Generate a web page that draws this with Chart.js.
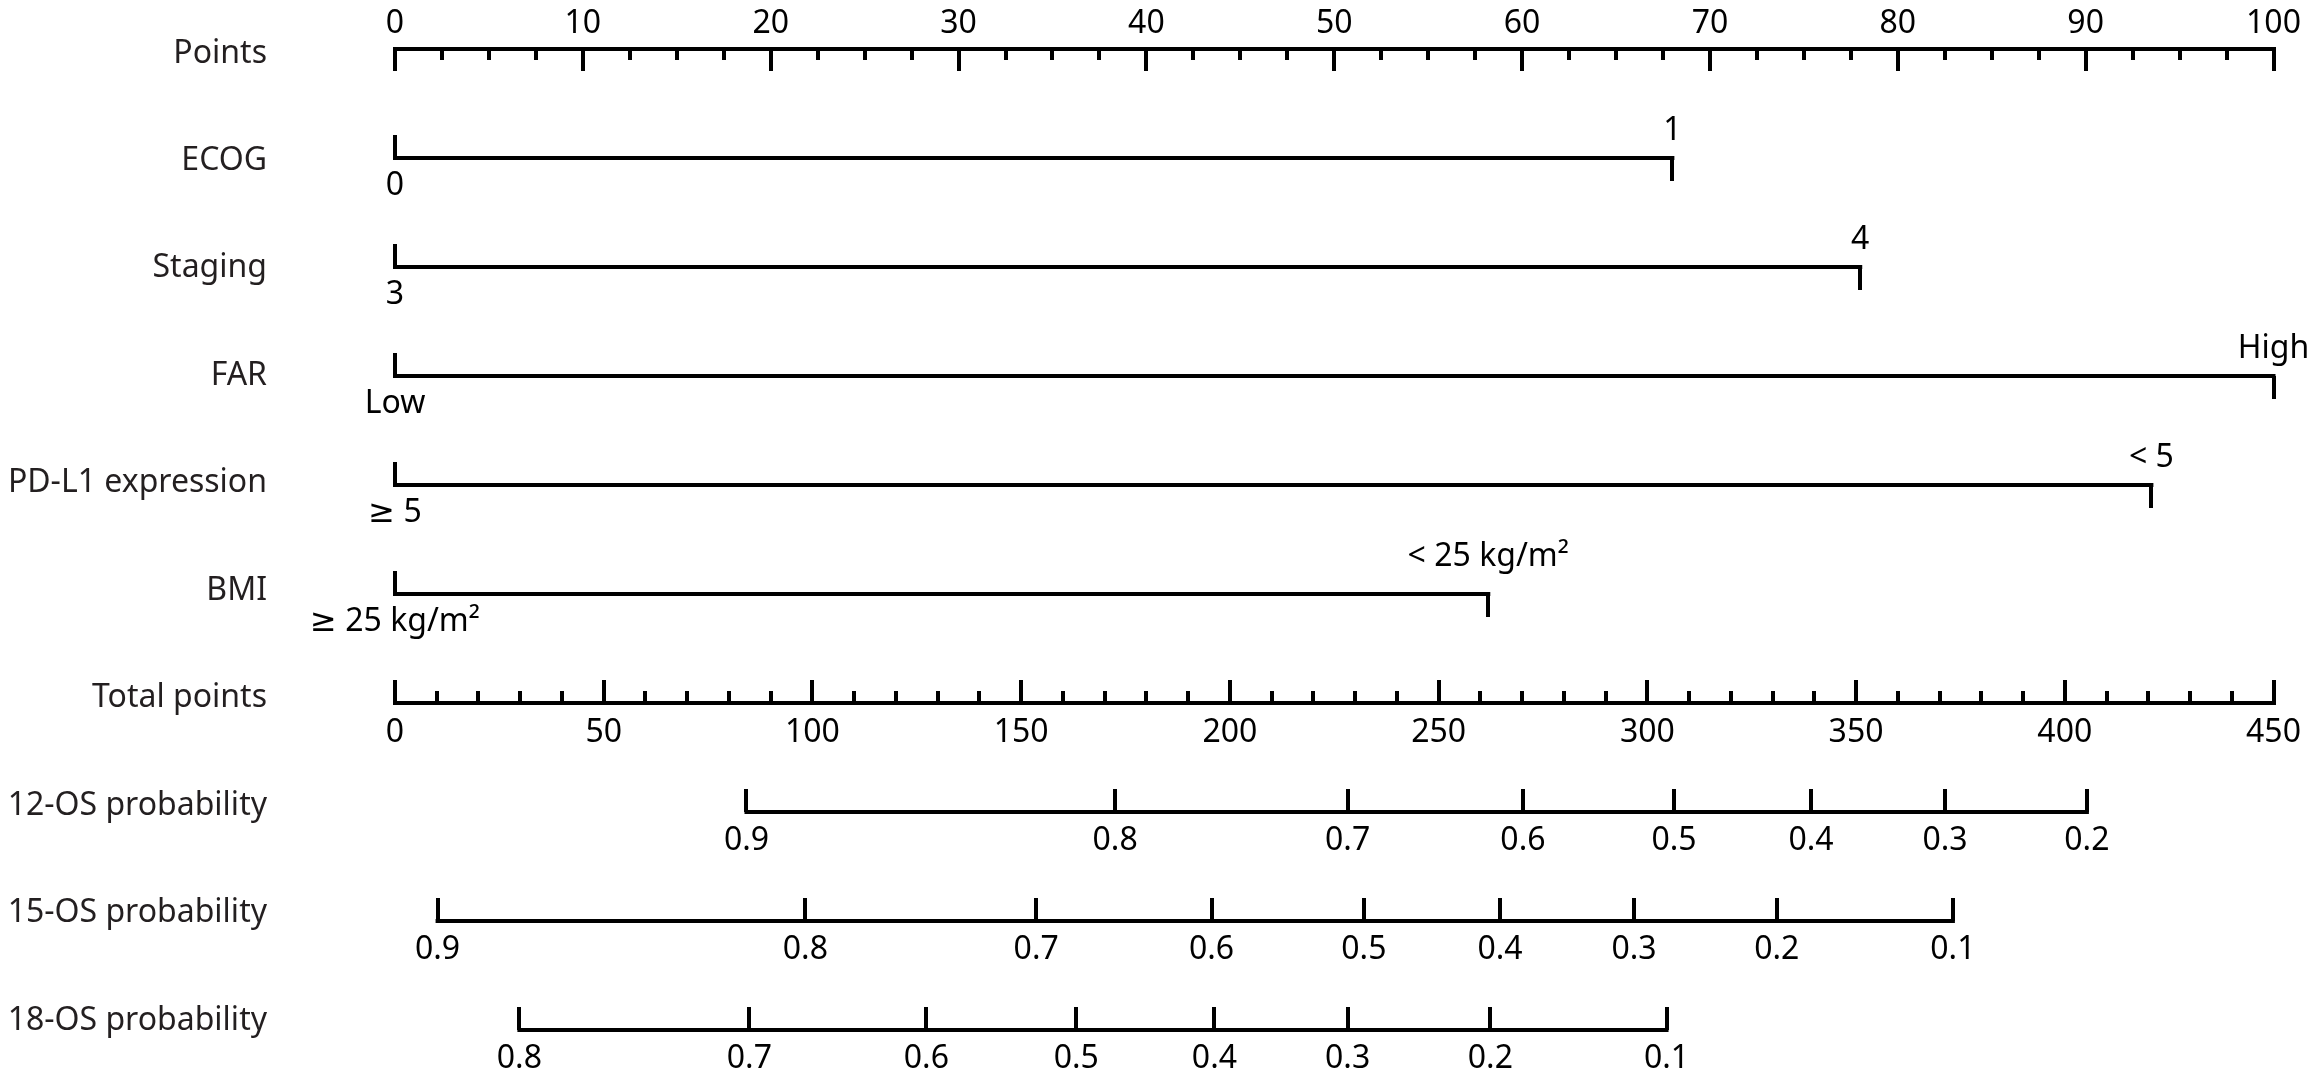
<!DOCTYPE html>
<html>
<head>
<meta charset="utf-8">
<title>Nomogram</title>
<script src="https://cdn.jsdelivr.net/npm/chart.js@4.4.1/dist/chart.umd.min.js"></script>
<style>
  html, body { margin: 0; padding: 0; background: #fff; }
  #wrap { width: 2314px; height: 1089px; }
</style>
</head>
<body>
<div id="wrap"><canvas id="nomogram"></canvas></div>
<script>
// rows, top to bottom
const rowNames = ['Points', 'ECOG', 'Staging', 'FAR', 'PD-L1 expression', 'BMI',
                  'Total points', '12-OS probability', '15-OS probability', '18-OS probability'];

const pointsTicks = [0, 10, 20, 30, 40, 50, 60, 70, 80, 90, 100];
const totalTicks = [0, 50, 100, 150, 200, 250, 300, 350, 400, 450];

// factor levels and the points they get
const ecogLevels = ['0', '1'];
const ecogPoints = [0, 68];
const stagingLevels = ['3', '4'];
const stagingPoints = [0, 78];
const farLevels = ['Low', 'High'];
const farPoints = [0, 100];
const pdl1Levels = ['\u2265 5', '< 5'];
const pdl1Points = [0, 93.5];
const bmiLevels = ['\u2265 25 kg/m\u00b2', '< 25 kg/m\u00b2'];
const bmiPoints = [0, 58.2];

// survival probabilities and the total points where they sit
const os12Labels = ['0.9', '0.8', '0.7', '0.6', '0.5', '0.4', '0.3', '0.2'];
const os12Total = [84.2, 172.5, 228.2, 270.2, 306.4, 339.2, 371.3, 405.3];
const os15Labels = ['0.9', '0.8', '0.7', '0.6', '0.5', '0.4', '0.3', '0.2', '0.1'];
const os15Total = [10.2, 98.3, 153.6, 195.6, 232.1, 264.7, 296.8, 331.0, 373.2];
const os18Labels = ['0.8', '0.7', '0.6', '0.5', '0.4', '0.3', '0.2', '0.1'];
const os18Total = [29.8, 84.9, 127.3, 163.2, 196.3, 228.2, 262.4, 304.6];

Chart.defaults.font.family = "'Noto Sans', 'DejaVu Sans', sans-serif";
Chart.defaults.font.size = 32;

const LW = 4;

// an x axis pinned to one row; ticks go down (labels above) or up (labels below)
function rowAxis(row, max, values, labels, dir, tl, pad, border) {
    return {
        type: 'linear',
        axis: 'x',
        position: { y: row },
        min: 0,
        max: max,
        afterBuildTicks: s => { s.ticks = values.map(v => ({ value: v })); },
        afterFit: s => { s.paddingLeft = 0; s.paddingRight = 0; s.paddingTop = 0; s.paddingBottom = 0; },
        grid: {
            drawOnChartArea: false,
            drawTicks: true,
            tickLength: dir === 'down' ? tl : -tl,
            lineWidth: LW,
            tickWidth: LW,
            tickColor: '#000'
        },
        border: { display: !!border, width: LW, color: '#000' },
        ticks: {
            autoSkip: false,
            maxRotation: 0,
            padding: pad,
            color: '#000',
            callback: (v, i) => labels[i]
        }
    };
}

function minorAxis(row, max, step, tl) {
    return {
        type: 'linear',
        axis: 'x',
        position: { y: row },
        min: 0,
        max: max,
        grid: { drawOnChartArea: false, tickLength: tl, lineWidth: LW, tickWidth: LW, tickColor: '#000' },
        border: { display: false },
        ticks: { display: false, stepSize: step, autoSkip: false }
    };
}

const scales = {
    y: { type: 'linear', reverse: true, min: 0, max: 9, display: false },
    yl: {
        type: 'linear',
        position: 'left',
        reverse: true,
        min: -0.041,
        max: 9.088,
        afterBuildTicks: s => { s.ticks = rowNames.map((n, i) => ({ value: i })); },
        afterFit: s => { s.width = 395; s.paddingTop = 0; s.paddingBottom = 0; },
        grid: { display: false },
        border: { display: false },
        ticks: { autoSkip: false, padding: 120, color: '#231f20', callback: v => rowNames[v] }
    },
    x: rowAxis(0, 100, pointsTicks, pointsTicks.map(String), 'down', 20, -64, true),
    xMinor: minorAxis(0, 100, 2.5, 11),
    xTotal: rowAxis(6, 450, totalTicks, totalTicks.map(String), 'up', 25, 36, true),
    xTotalMinor: minorAxis(6, 450, 10, -12),
    os12: rowAxis(7, 450, os12Total, os12Labels, 'up', 23, 33),
    os15: rowAxis(8, 450, os15Total, os15Labels, 'up', 23, 33),
    os18: rowAxis(9, 450, os18Total, os18Labels, 'up', 23, 33)
};

const factors = [
    { row: 1, levels: ecogLevels, points: ecogPoints },
    { row: 2, levels: stagingLevels, points: stagingPoints },
    { row: 3, levels: farLevels, points: farPoints },
    { row: 4, levels: pdl1Levels, points: pdl1Points },
    { row: 5, levels: bmiLevels, points: bmiPoints, hiPad: -79 }
];

const datasets = [];

function segment(axisId, row, from, to) {
    datasets.push({
        data: [{ x: from, y: row }, { x: to, y: row }],
        xAxisID: axisId,
        yAxisID: 'y',
        borderColor: '#000',
        borderWidth: LW,
        borderCapStyle: 'square',
        pointRadius: 0,
        clip: false
    });
}

factors.forEach(f => {
    scales['lo' + f.row] = rowAxis(f.row, 100, [f.points[0]], [f.levels[0]], 'up', 23, 32);
    scales['hi' + f.row] = rowAxis(f.row, 100, f.points.slice(1), f.levels.slice(1), 'down', 23, f.hiPad || -69);
    segment('x', f.row, Math.min(...f.points), Math.max(...f.points));
});

segment('os12', 7, os12Total[0], os12Total[os12Total.length - 1]);
segment('os15', 8, os15Total[0], os15Total[os15Total.length - 1]);
segment('os18', 9, os18Total[0], os18Total[os18Total.length - 1]);

new Chart(document.getElementById('nomogram'), {
    type: 'line',
    data: { datasets: datasets },
    options: {
        responsive: true,
        maintainAspectRatio: false,
        animation: false,
        events: [],
        layout: { padding: { left: 0, top: 49, right: 40.5, bottom: 59 } },
        plugins: { legend: { display: false }, tooltip: { enabled: false } },
        scales: scales
    }
});
</script>
</body>
</html>
